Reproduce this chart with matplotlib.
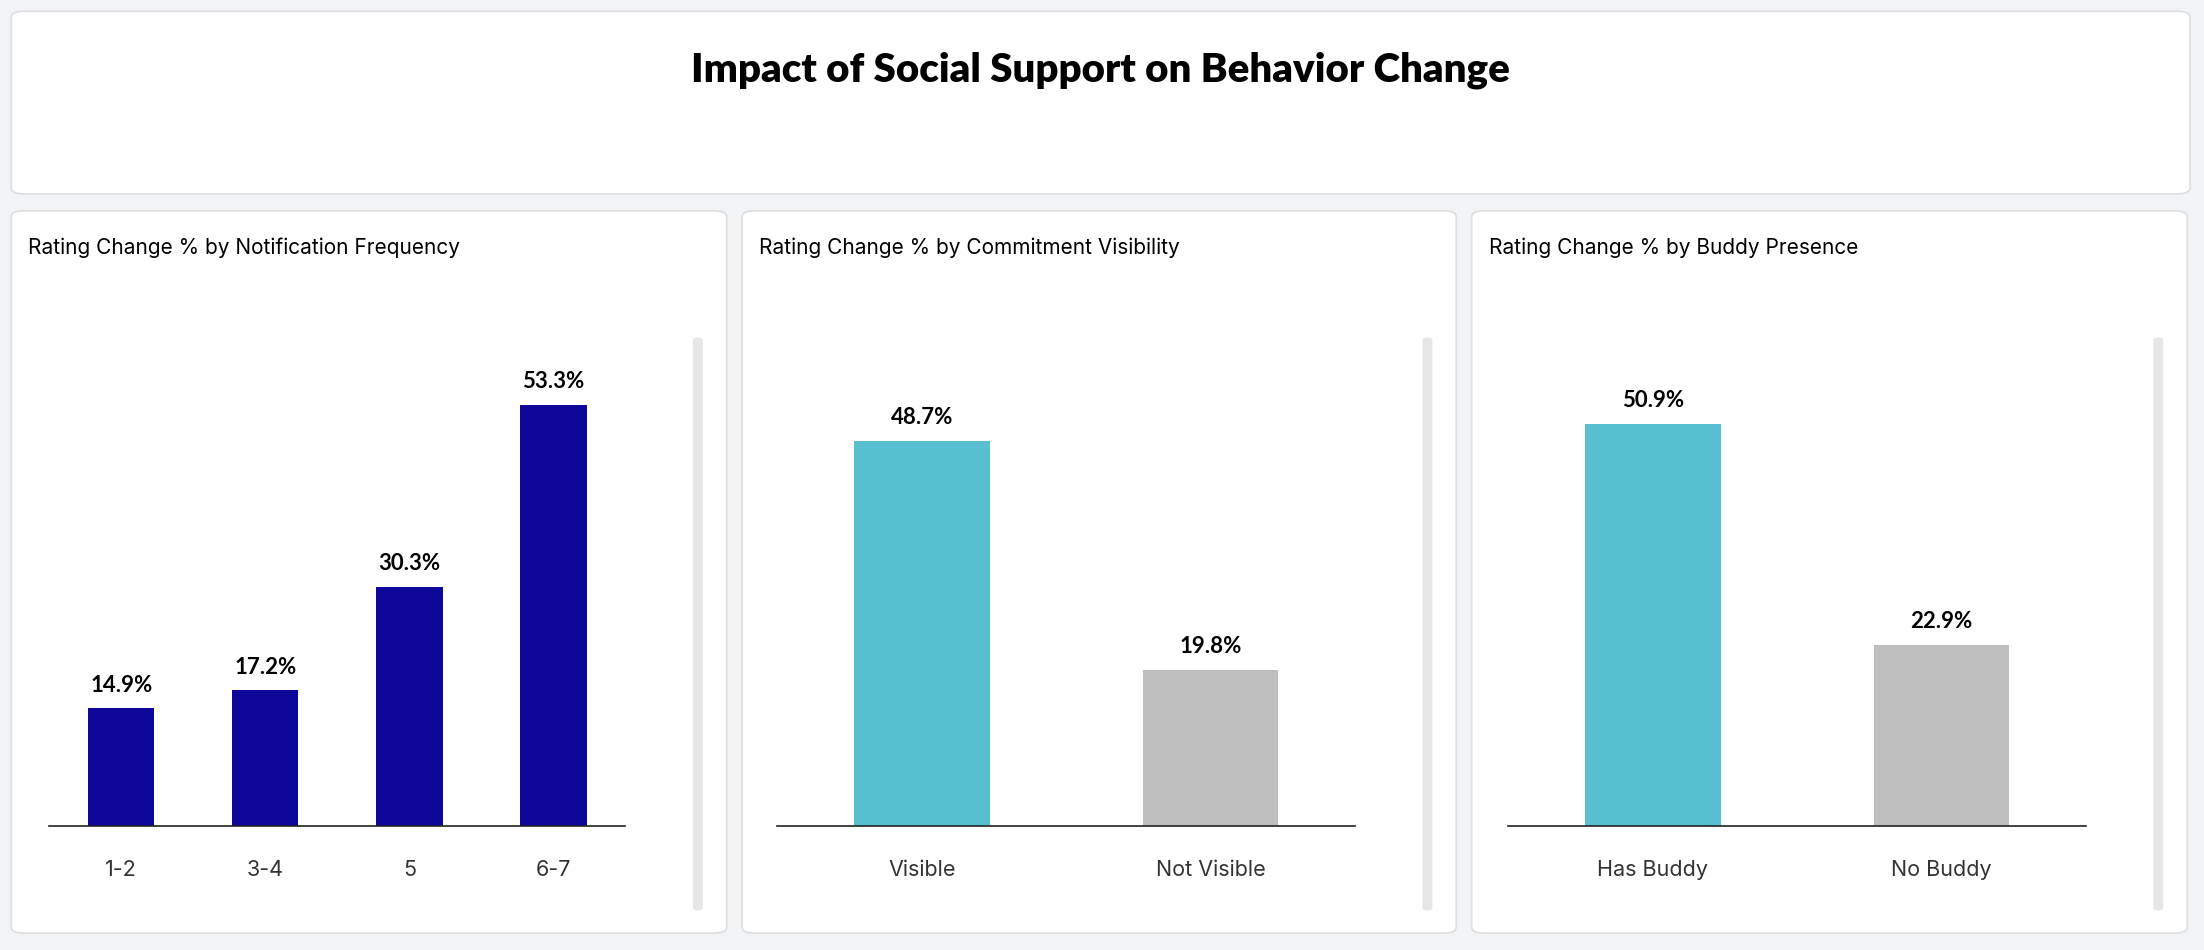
import matplotlib
matplotlib.use("Agg")
import matplotlib.pyplot as plt
from matplotlib.patches import FancyBboxPatch

title = "Impact of Social Support on Behavior Change"
p1_title = "Rating Change % by Notification Frequency"
p1_cats = ["1-2", "3-4", "5", "6-7"]
p1_vals = [14.9, 17.2, 30.3, 53.3]
p2_title = "Rating Change % by Commitment Visibility"
p2_cats = ["Visible", "Not Visible"]
p2_vals = [48.7, 19.8]
p3_title = "Rating Change % by Buddy Presence"
p3_cats = ["Has Buddy", "No Buddy"]
p3_vals = [50.9, 22.9]

W, H = 1568, 676
fig = plt.figure(figsize=(22.04, 9.5), dpi=100)
fig.patch.set_facecolor("#f2f3f5")

def fx(x): return x / W
def fy(y): return 1 - y / H

def card(x0, y0, x1, y1):
    p = FancyBboxPatch((fx(x0), fy(y1)), fx(x1) - fx(x0), fy(y0) - fy(y1),
                       boxstyle="round,pad=0,rounding_size=0.006",
                       transform=fig.transFigure, facecolor="white",
                       edgecolor="#dcdee2", linewidth=1.2, zorder=-10)
    fig.patches.append(p)

card(8, 8, 1558, 138)
fig.text(fx(783), fy(50), title, ha="center", va="center", fontsize=29,
         fontweight="heavy", family=["Lato", "DejaVu Sans"])

panels = [
    (8, 517, 35, 445, p1_title, p1_cats, p1_vals, ["#0d0698"] * 4, 0.46),
    (528, 1036, 553, 964, p2_title, p2_cats, p2_vals, ["#58bfd1", "#bdbebd"], 0.47),
    (1047, 1556, 1073, 1484, p3_title, p3_cats, p3_vals, ["#58bfd1", "#bdbebd"], 0.47),
]
base, top = 588, 220
scale = 5.63
for (cx0, cx1, ax0, ax1, t, cats, vals, cols, bw) in panels:
    card(cx0, 150, cx1, 664)
    fig.text(fx(cx0 + 12), fy(176), t, ha="left", va="center", fontsize=15,
             family=["Inter", "DejaVu Sans"], zorder=5)
    sb = FancyBboxPatch((fx(cx1 - 24), fy(648)), fx(7), fy(240) - fy(648),
                        boxstyle="round,pad=0,rounding_size=0.003",
                        transform=fig.transFigure, facecolor="#e6e6e6",
                        edgecolor="none", zorder=-5)
    fig.patches.append(sb)
    ax = fig.add_axes([fx(ax0), fy(base), fx(ax1) - fx(ax0), fy(top) - fy(base)])
    ax.set_zorder(2)
    ax.patch.set_visible(False)
    x = list(range(len(cats)))
    ax.bar(x, vals, width=bw, color=cols, zorder=2)
    for xi, v in zip(x, vals):
        ax.text(xi, v + 1.6, f"{v:.1f}%", ha="center", va="bottom", fontsize=16,
                fontweight="bold", family=["Lato", "DejaVu Sans"])
    ax.set_xlim(-0.5, len(cats) - 0.5)
    ax.set_ylim(0, (base - top) / scale)
    ax.set_xticks(x)
    ax.set_xticklabels(cats, fontsize=15.5, color="#333333", family=["Inter", "DejaVu Sans"])
    ax.tick_params(axis="x", length=0, pad=24)
    ax.set_yticks([])
    for s in ["top", "right", "left"]:
        ax.spines[s].set_visible(False)
    ax.spines["bottom"].set_color("#222222")
    ax.spines["bottom"].set_linewidth(1.2)

fig.savefig("out.png", dpi=100, facecolor=fig.get_facecolor())
